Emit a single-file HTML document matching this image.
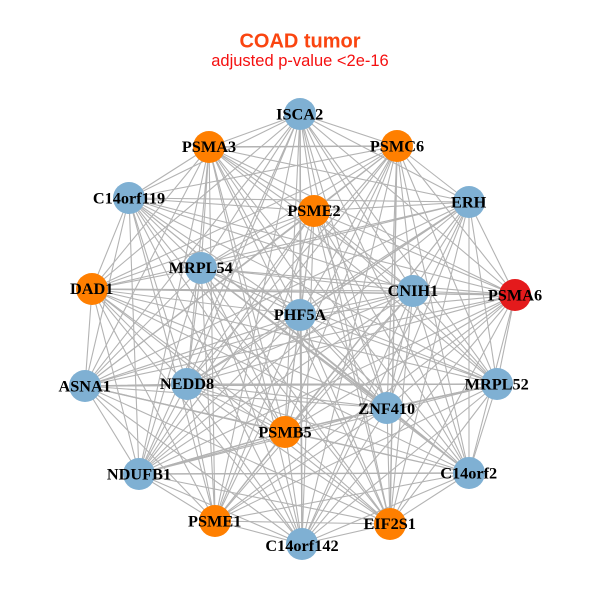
<!DOCTYPE html>
<html><head><meta charset="utf-8"><style>
html,body{margin:0;padding:0;background:#fff}
svg{display:block}
text.l{font:bold 16.3px "Liberation Serif",serif;text-anchor:middle;fill:#000}
</style></head><body>
<svg width="600" height="600" viewBox="0 0 600 600" xmlns="http://www.w3.org/2000/svg">
<rect width="600" height="600" fill="#fff"/>
<text x="300" y="47.5" text-anchor="middle" style="font:bold 20px 'Liberation Sans',sans-serif" fill="#fa4510">COAD tumor</text>
<text x="300" y="66" text-anchor="middle" style="font:16.5px 'Liberation Sans',sans-serif" fill="#f51010">adjusted p-value &lt;2e-16</text>
<g fill="none" stroke="#b3b3b3" stroke-width="1.1">
<path d="M300,114 397,146 300,114 469,202 300,114 515,295 300,114 497,384 300,114 469,473 300,114 390,524 300,114 302,544 300,114 215,521 300,114 139,474 300,114 85,386 300,114 92,289 300,114 129,198 300,114 209,147 300,114 314,211 300,114 413,291 300,114 387,408 300,114 285,432 300,114 187,384 300,114 201,268 300,114 300,315"/>
<path d="M397,146 469,202 397,146 515,295 397,146 497,384 397,146 469,473 397,146 390,524 397,146 302,544 397,146 215,521 397,146 139,474 397,146 85,386 397,146 92,289 397,146 129,198 397,146 209,147 397,146 314,211 397,146 413,291 397,146 387,408 397,146 285,432 397,146 187,384 397,146 201,268 397,146 300,315"/>
<path d="M469,202 515,295 469,202 497,384 469,202 469,473 469,202 390,524 469,202 302,544 469,202 215,521 469,202 139,474 469,202 85,386 469,202 92,289 469,202 129,198 469,202 209,147 469,202 314,211 469,202 413,291 469,202 387,408 469,202 285,432 469,202 187,384 469,202 201,268 469,202 300,315"/>
<path d="M515,295 497,384 515,295 469,473 515,295 390,524 515,295 302,544 515,295 215,521 515,295 139,474 515,295 85,386 515,295 92,289 515,295 129,198 515,295 209,147 515,295 314,211 515,295 413,291 515,295 387,408 515,295 285,432 515,295 187,384 515,295 201,268 515,295 300,315"/>
<path d="M497,384 469,473 497,384 390,524 497,384 302,544 497,384 215,521 497,384 139,474 497,384 85,386 497,384 92,289 497,384 129,198 497,384 209,147 497,384 314,211 497,384 413,291 497,384 387,408 497,384 285,432 497,384 187,384 497,384 201,268 497,384 300,315"/>
<path d="M469,473 390,524 469,473 302,544 469,473 215,521 469,473 139,474 469,473 85,386 469,473 92,289 469,473 129,198 469,473 209,147 469,473 314,211 469,473 413,291 469,473 387,408 469,473 285,432 469,473 187,384 469,473 201,268 469,473 300,315"/>
<path d="M390,524 302,544 390,524 215,521 390,524 139,474 390,524 85,386 390,524 92,289 390,524 129,198 390,524 209,147 390,524 314,211 390,524 413,291 390,524 387,408 390,524 285,432 390,524 187,384 390,524 201,268 390,524 300,315"/>
<path d="M302,544 215,521 302,544 139,474 302,544 85,386 302,544 92,289 302,544 129,198 302,544 209,147 302,544 314,211 302,544 413,291 302,544 387,408 302,544 285,432 302,544 187,384 302,544 201,268 302,544 300,315"/>
<path d="M215,521 139,474 215,521 85,386 215,521 92,289 215,521 129,198 215,521 209,147 215,521 314,211 215,521 413,291 215,521 387,408 215,521 285,432 215,521 187,384 215,521 201,268 215,521 300,315"/>
<path d="M139,474 85,386 139,474 92,289 139,474 129,198 139,474 209,147 139,474 314,211 139,474 413,291 139,474 387,408 139,474 285,432 139,474 187,384 139,474 201,268 139,474 300,315"/>
<path d="M85,386 92,289 85,386 129,198 85,386 209,147 85,386 314,211 85,386 413,291 85,386 387,408 85,386 285,432 85,386 187,384 85,386 201,268 85,386 300,315"/>
<path d="M92,289 129,198 92,289 209,147 92,289 314,211 92,289 413,291 92,289 387,408 92,289 285,432 92,289 187,384 92,289 201,268 92,289 300,315"/>
<path d="M129,198 209,147 129,198 314,211 129,198 413,291 129,198 387,408 129,198 285,432 129,198 187,384 129,198 201,268 129,198 300,315"/>
<path d="M209,147 314,211 209,147 413,291 209,147 387,408 209,147 285,432 209,147 187,384 209,147 201,268 209,147 300,315"/>
<path d="M314,211 413,291 314,211 387,408 314,211 285,432 314,211 187,384 314,211 201,268 314,211 300,315"/>
<path d="M413,291 387,408 413,291 285,432 413,291 187,384 413,291 201,268 413,291 300,315"/>
<path d="M387,408 285,432 387,408 187,384 387,408 201,268 387,408 300,315"/>
<path d="M285,432 187,384 285,432 201,268 285,432 300,315"/>
<path d="M187,384 201,268 187,384 300,315"/>
<path d="M201,268 300,315"/>
</g>
<g fill="none" stroke="#b3b3b3" stroke-width="1.4">
<path d="M139,474 285,432M387,408 497,384M387,408 469,473M85,386 285,432M285,432 387,408M469,202 300,315M92,289 515,295M85,386 497,384M209,147 397,146M139,474 469,473M201,268 387,408M397,146 390,524M300,114 302,544"/>
</g>
<g fill="#7fb0d3">
<circle cx="300" cy="114" r="16"/>
<circle cx="469" cy="202" r="16"/>
<circle cx="497" cy="384" r="16"/>
<circle cx="469" cy="473" r="16"/>
<circle cx="302" cy="544" r="16"/>
<circle cx="139" cy="474" r="16"/>
<circle cx="85" cy="386" r="16"/>
<circle cx="129" cy="198" r="16"/>
<circle cx="413" cy="291" r="16"/>
<circle cx="387" cy="408" r="16"/>
<circle cx="187" cy="384" r="16"/>
<circle cx="201" cy="268" r="16"/>
<circle cx="300" cy="315" r="16"/>
</g>
<g fill="#ff7f00">
<circle cx="397" cy="146" r="16"/>
<circle cx="390" cy="524" r="16"/>
<circle cx="215" cy="521" r="16"/>
<circle cx="92" cy="289" r="16"/>
<circle cx="209" cy="147" r="16"/>
<circle cx="314" cy="211" r="16"/>
<circle cx="285" cy="432" r="16"/>
</g>
<circle cx="515" cy="295" r="16" fill="#e41a1c"/>
<text class="l" x="299.7" y="119.5">ISCA2</text>
<text class="l" x="397" y="151.5">PSMC6</text>
<text class="l" x="468.7" y="207.5">ERH</text>
<text class="l" x="515" y="300.5">PSMA6</text>
<text class="l" x="496.7" y="389.5">MRPL52</text>
<text class="l" x="468.7" y="478.5">C14orf2</text>
<text class="l" x="389.7" y="529">EIF2S1</text>
<text class="l" x="302" y="551">C14orf142</text>
<text class="l" x="214.7" y="526.5">PSME1</text>
<text class="l" x="139" y="479.5">NDUFB1</text>
<text class="l" x="84.7" y="391.5">ASNA1</text>
<text class="l" x="91.7" y="294">DAD1</text>
<text class="l" x="129" y="203.5">C14orf119</text>
<text class="l" x="209" y="152">PSMA3</text>
<text class="l" x="314" y="216">PSME2</text>
<text class="l" x="413" y="296">CNIH1</text>
<text class="l" x="386.7" y="414">ZNF410</text>
<text class="l" x="285" y="437.5">PSMB5</text>
<text class="l" x="187" y="389">NEDD8</text>
<text class="l" x="200.7" y="273">MRPL54</text>
<text class="l" x="300" y="320">PHF5A</text>
</svg>
</body></html>
